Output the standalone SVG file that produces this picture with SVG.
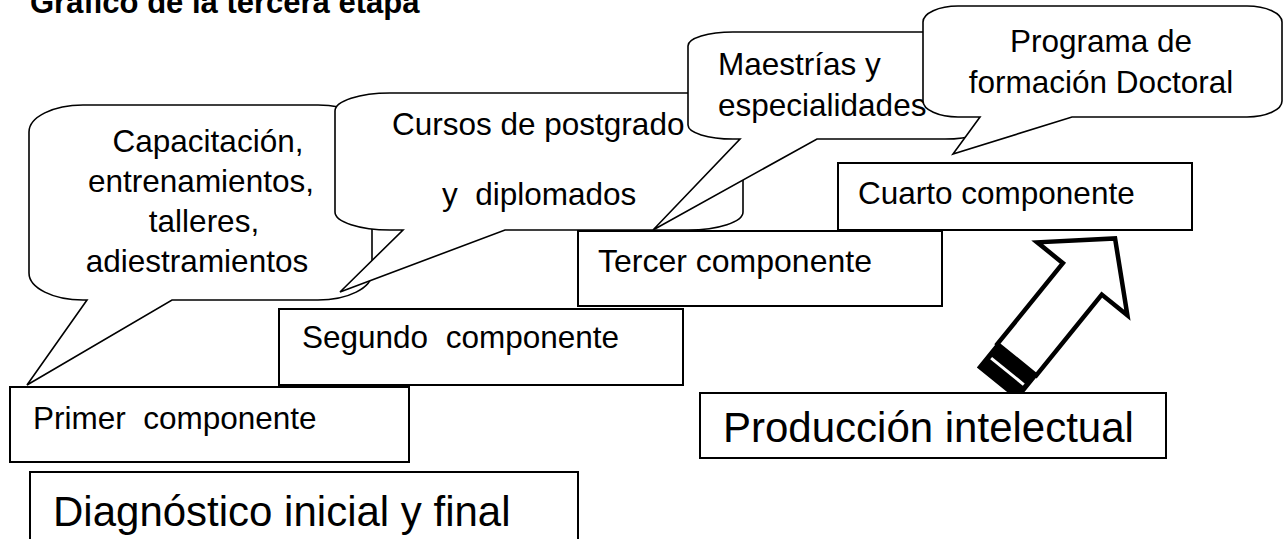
<svg xmlns="http://www.w3.org/2000/svg" width="1288" height="539" viewBox="0 0 1288 539">
<style>
text{font-family:"Liberation Sans",Arial,sans-serif;fill:#000;white-space:pre}
.t{font-size:31.5px}
.big{font-size:42px}
.box{fill:#fff;stroke:#000;stroke-width:2}
.call{fill:#fff;stroke:#000;stroke-width:1.6;stroke-linejoin:miter}
.mid{text-anchor:middle}
</style>
<rect width="1288" height="539" fill="#fff"/>
<text id="title" x="30" y="13" style="font-size:31px;font-weight:bold">Gráfico de la tercera etapa</text>

<g id="diagnostico">
<rect class="box" x="30" y="472" width="548" height="84"/>
<text class="big" x="53" y="526">Diagnóstico inicial y final</text>
</g>
<g id="primer">
<rect class="box" x="10" y="387" width="399" height="75"/>
<text class="t" x="33" y="429" xml:space="preserve">Primer  componente</text>
</g>
<g id="segundo">
<rect class="box" x="279" y="309" width="404" height="76"/>
<text class="t" x="302" y="348" xml:space="preserve">Segundo  componente</text>
</g>
<g id="tercer">
<rect class="box" x="578" y="231" width="364" height="75"/>
<text class="t" x="598" y="272" style="font-size:32px">Tercer componente</text>
</g>
<g id="cuarto">
<rect class="box" x="838" y="163" width="354" height="67"/>
<text class="t" x="858" y="204">Cuarto componente</text>
</g>

<g id="callout-capacitacion">
<path class="call" d="M83,105 H318 A54 27 0 0 1 372,132 V273 A54 27 0 0 1 318,300 H172 L27,385 L87,300 H83 A54 27 0 0 1 29,273 V132 A54 27 0 0 1 83,105 Z"/>
<text class="t mid" x="208" y="152">Capacitación,</text>
<text class="t mid" x="201" y="192">entrenamientos,</text>
<text class="t mid" x="204" y="232">talleres,</text>
<text class="t mid" x="197" y="272">adiestramientos</text>
</g>
<g id="callout-cursos">
<path class="call" d="M390,93 H688 A55 18 0 0 1 743,111 V212 A55 18 0 0 1 688,230 H505 L340,292 L403,230 H390 A55 18 0 0 1 335,212 V111 A55 18 0 0 1 390,93 Z"/>
<text class="t" x="392" y="135">Cursos de postgrado</text>
<text class="t" x="442" y="205" xml:space="preserve">y  diplomados</text>
</g>
<g id="callout-maestrias">
<path class="call" d="M733,32 H945 A45 14 0 0 1 990,46 V125 A45 14 0 0 1 945,139 H817 L653,230 L740,139 H733 A45 14 0 0 1 688,125 V46 A45 14 0 0 1 733,32 Z"/>
<text class="t" x="718" y="75">Maestrías y</text>
<text class="t" x="718" y="116">especialidades</text>
</g>
<g id="callout-programa">
<path class="call" d="M958,6 H1247 A35 16 0 0 1 1282,22 V101 A35 16 0 0 1 1247,117 H1072 L953,154 L980,117 H958 A35 16 0 0 1 923,101 V22 A35 16 0 0 1 958,6 Z"/>
<text class="t mid" x="1101" y="52">Programa de</text>
<text class="t mid" x="1101" y="93">formación Doctoral</text>
</g>

<g id="connectors">
<g transform="translate(998,383) rotate(-51)">
<polygon points="30,-25 134,-25 134,-58 186,0 134,58 134,25 30,25" fill="#fff" stroke="#000" stroke-width="4.5" stroke-linejoin="miter"/>
<rect x="0" y="-25" width="30" height="50" fill="#000" stroke="#000" stroke-width="2.5"/>
<line x1="15" y1="-21" x2="15" y2="21" stroke="#fff" stroke-width="3"/>
</g>
</g>

<g id="produccion">
<rect class="box" x="700" y="393" width="466" height="65"/>
<text class="big" x="723" y="442">Producción intelectual</text>
</g>
</svg>
